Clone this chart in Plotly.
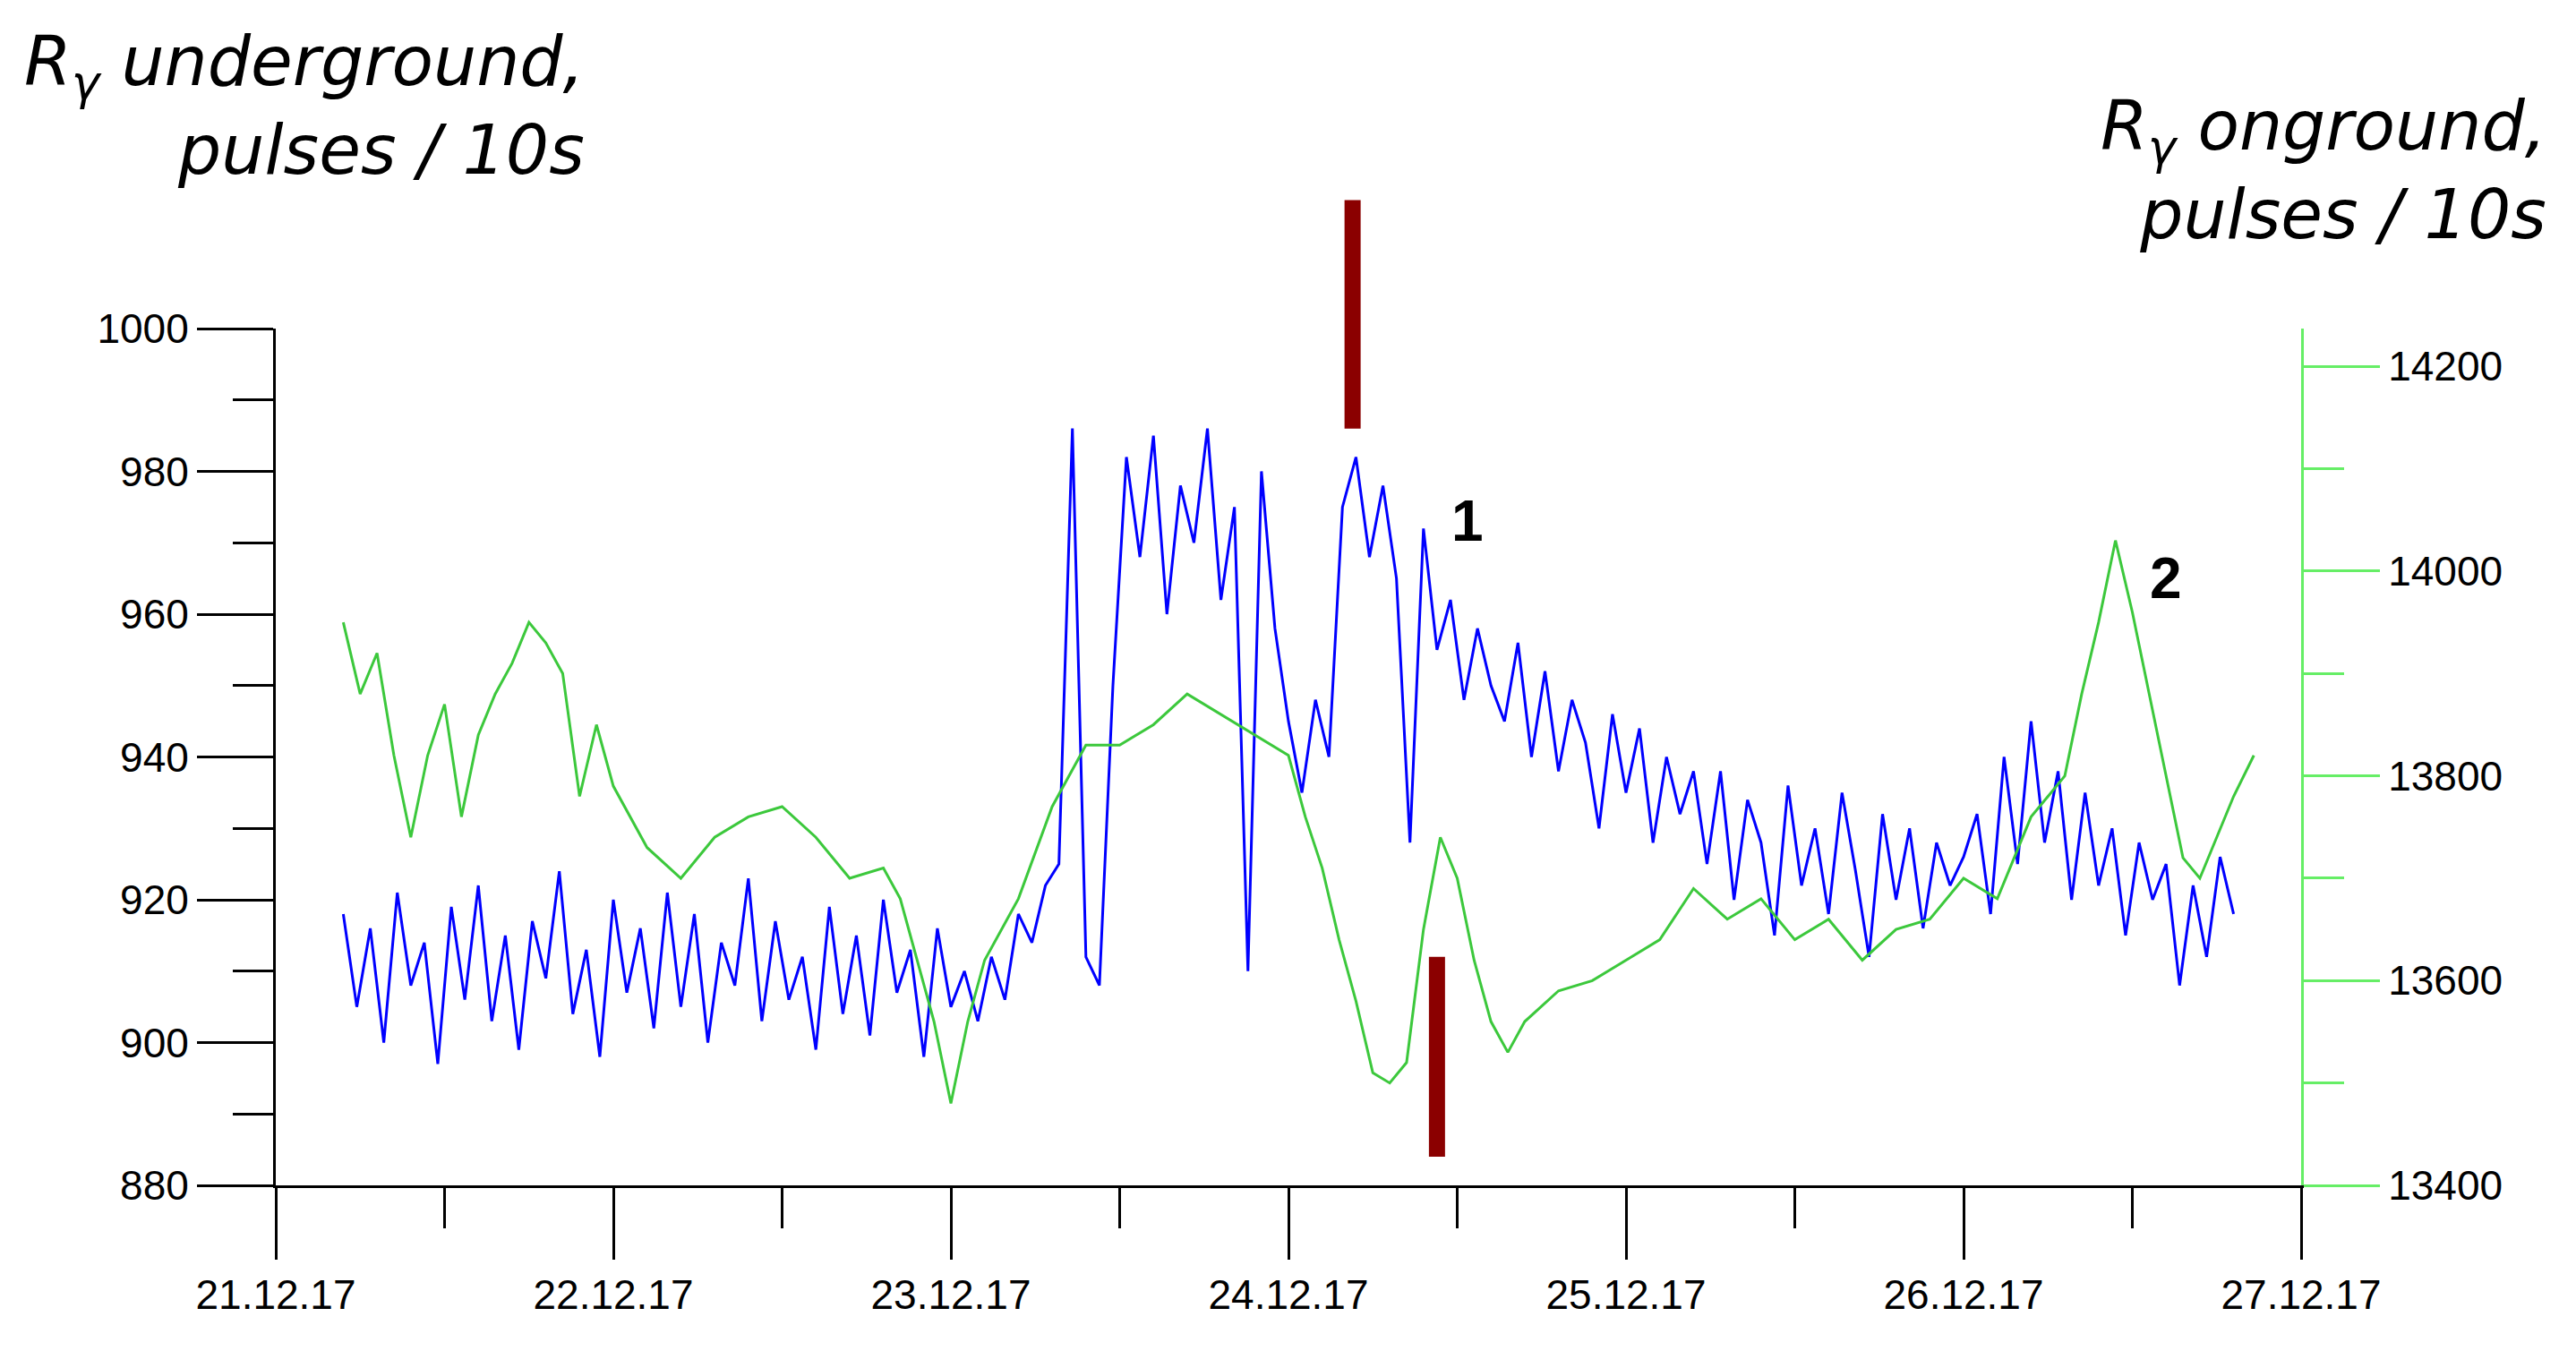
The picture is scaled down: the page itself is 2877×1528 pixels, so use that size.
import numpy as np
import plotly.graph_objects as go

# time axis in days since 21.12.17
date_labels = ["21.12.17", "22.12.17", "23.12.17", "24.12.17", "25.12.17", "26.12.17", "27.12.17"]
x_range = [0, 6]
y_range = [880, 1000]

# underground R_gamma (left axis), sampled every 0.04 day from day 0.2
under_t = np.round(0.2 + 0.04 * np.arange(141), 3)
under_vals = [
    918, 905, 916, 900, 921, 908, 914, 897, 919, 906, 922, 903, 915, 899, 917, 909,
    924, 904, 913, 898, 920, 907, 916, 902, 921, 905, 918, 900, 914, 908, 923, 903,
    917, 906, 912, 899, 919, 904, 915, 901, 920, 907, 913, 898, 916, 905,
    910, 903, 912, 906, 918,
    914, 922, 925, 986,
    912, 908, 950, 982,
    968, 985, 960, 978, 970, 986, 962, 975, 910, 980, 958, 945,
    935, 948, 940, 975,
    982, 968, 978, 965, 928,
    972, 955, 962, 948, 958, 950,
    945, 956, 940, 952, 938, 948, 942, 930, 946, 935, 944, 928, 940, 932, 938,
    925, 938, 920, 934, 928, 915, 936, 922, 930, 918, 935, 924, 912, 932, 920, 930,
    916, 928, 922, 926,
    932, 918, 940, 925, 945, 928, 938, 920, 935, 922,
    930, 915, 928, 920, 925, 908, 922, 912, 926, 918,
]

# onground R_gamma (right axis)
on_t = [0.2, 0.25, 0.3, 0.35, 0.4, 0.45, 0.5, 0.55, 0.6, 0.65, 0.7, 0.75, 0.8, 0.85,
        0.9, 0.95, 1.0, 1.1, 1.2, 1.3, 1.4, 1.5, 1.6, 1.7, 1.8, 1.85, 1.9, 1.95, 2.0,
        2.05, 2.1, 2.2, 2.3, 2.4, 2.5, 2.6, 2.7, 2.8, 2.9, 3.0, 3.05, 3.1, 3.15, 3.2,
        3.25, 3.3, 3.35, 3.4, 3.45, 3.5, 3.55, 3.6, 3.65, 3.7, 3.8, 3.9, 4.0, 4.1,
        4.2, 4.3, 4.4, 4.5, 4.6, 4.7, 4.8, 4.9, 5.0, 5.1, 5.2, 5.3, 5.35, 5.4, 5.45,
        5.5, 5.55, 5.6, 5.65, 5.7, 5.75, 5.8, 5.86]
on_vals = [13950, 13880, 13920, 13820, 13740, 13820, 13870, 13760, 13840, 13880,
           13910, 13950, 13930, 13900, 13780, 13850, 13790, 13730, 13700, 13740,
           13760, 13770, 13740, 13700, 13710, 13680, 13620, 13560, 13480,
           13560, 13620, 13680, 13770, 13830, 13830, 13850, 13880, 13860, 13840, 13820,
           13760, 13710, 13640, 13580,
           13510, 13500, 13520, 13650, 13740, 13700, 13620, 13560, 13530, 13560, 13590,
           13600, 13620, 13640, 13690, 13660, 13680, 13640, 13660, 13620, 13650, 13660,
           13700, 13680, 13760, 13800, 13880, 13950, 14030, 13960, 13880, 13800, 13720,
           13700, 13740, 13780, 13820]

# event markers: (day, lower value, upper value) on the left axis
mark_t = [3.19, 3.44]
mark_lo = [986, 884]
mark_hi = [1018, 912]

# labelled peaks
peak_t = [3.53, 5.6]
peak_y = [973, 965]
peak_text = ["1", "2"]

fig = go.Figure()
fig.add_trace(go.Scatter(x=on_t, y=on_vals, yaxis="y2", mode="lines",
                         line=dict(color="#3cc83c", width=3), showlegend=False))
fig.add_trace(go.Scatter(x=under_t, y=under_vals, mode="lines",
                         line=dict(color="#0000ff", width=3), showlegend=False))

# paper coords so the upper marker can rise above the plot area
span_x = x_range[1] - x_range[0]
span_y = y_range[1] - y_range[0]
for t, lo, hi in zip(mark_t, mark_lo, mark_hi):
    px = (t - x_range[0]) / span_x
    fig.add_shape(type="line", xref="paper", yref="paper", x0=px, x1=px,
                  y0=(lo - y_range[0]) / span_y, y1=(hi - y_range[0]) / span_y,
                  line=dict(color="#8b0000", width=18), layer="above")

for t, y, s in zip(peak_t, peak_y, peak_text):
    fig.add_annotation(x=t, y=y, text="<b>" + s + "</b>", showarrow=False,
                       font=dict(size=64, color="black", family="Liberation Sans"))

tick_font = dict(size=46, family="Liberation Sans", color="black")
fig.update_layout(
    width=2877, height=1528,
    paper_bgcolor="white", plot_bgcolor="white",
    margin=dict(l=300, r=315, t=359, b=212),
    xaxis=dict(range=x_range, tickvals=list(range(7)), ticktext=date_labels,
               showgrid=False, zeroline=False, showline=True, linecolor="black",
               linewidth=3, ticks="outside", ticklen=80, tickwidth=3, tickcolor="black",
               tickfont=tick_font,
               minor=dict(dtick=0.5, tick0=0, ticks="outside", ticklen=45,
                          tickwidth=3, tickcolor="black")),
    yaxis=dict(range=y_range, dtick=20, showgrid=False, zeroline=False,
               showline=True, linecolor="black", linewidth=3, ticks="outside",
               ticklen=85, tickwidth=3, tickcolor="black", tickfont=tick_font,
               minor=dict(dtick=10, ticks="outside", ticklen=45, tickwidth=3,
                          tickcolor="black")),
    yaxis2=dict(range=[13400, 14237], overlaying="y", side="right",
                tickvals=[13400, 13600, 13800, 14000, 14200], tickformat="d",
                showgrid=False, zeroline=False, showline=True, linecolor="#66ee66",
                linewidth=3, ticks="outside", ticklen=85, tickwidth=3,
                tickcolor="#66ee66", tickfont=tick_font,
                minor=dict(tickvals=[13500, 13700, 13900, 14100], ticks="outside",
                           ticklen=45, tickwidth=3, tickcolor="#66ee66")),
)

title_font = dict(size=76, family="DejaVu Sans", color="black")
fig.add_annotation(xref="paper", yref="paper", x=-0.125, y=1.36, xanchor="left",
                   yanchor="top", align="right", showarrow=False, font=title_font,
                   text="<i>R<sub>γ</sub> underground,<br>pulses / 10s</i>")
fig.add_annotation(xref="paper", yref="paper", x=1.122, y=1.285, xanchor="right",
                   yanchor="top", align="right", showarrow=False, font=title_font,
                   text="<i>R<sub>γ</sub> onground,<br>pulses / 10s</i>")

fig.write_html("out.html")
